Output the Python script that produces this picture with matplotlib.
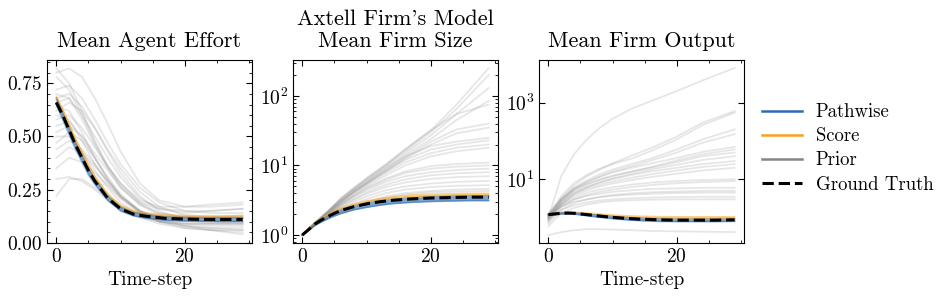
import matplotlib
matplotlib.use("Agg")
import matplotlib.pyplot as plt
from matplotlib.lines import Line2D
import numpy as np

plt.rcParams.update({
    "font.family": "serif",
    "font.serif": ["cmr10"],
    "mathtext.fontset": "cm",
    "axes.formatter.use_mathtext": True,
    "axes.unicode_minus": False,
    "font.size": 14,
    "axes.linewidth": 0.8,
    "xtick.direction": "in",
    "ytick.direction": "in",
    "xtick.top": True,
    "ytick.right": True,
    "xtick.minor.visible": True,
    "ytick.minor.visible": True,
    "xtick.major.size": 4,
    "ytick.major.size": 4,
    "xtick.minor.size": 2,
    "ytick.minor.size": 2,
    "xtick.major.width": 0.8,
    "ytick.major.width": 0.8,
    "xtick.minor.width": 0.6,
    "ytick.minor.width": 0.6,
})

BLUE = "#2a6db3"
ORANGE = "#f7a21b"
GREY = "#858585"

# time grids
t_main = [0, 1, 2, 3, 4, 5, 6, 8, 10, 12, 14, 17, 20, 23, 26, 29]
t_prior = [0, 2, 4, 6, 8, 10, 13, 16, 20, 24, 29]

# --- Mean Agent Effort ---
effort_truth = [0.66, 0.60, 0.53, 0.46, 0.40, 0.34, 0.29, 0.21, 0.16, 0.135, 0.125, 0.115, 0.112, 0.11, 0.11, 0.11]
effort_path_lo = [0.65, 0.58, 0.51, 0.44, 0.38, 0.32, 0.275, 0.20, 0.15, 0.127, 0.116, 0.106, 0.103, 0.101, 0.10, 0.10]
effort_path_hi = [0.68, 0.61, 0.54, 0.47, 0.41, 0.35, 0.30, 0.22, 0.168, 0.143, 0.132, 0.122, 0.119, 0.117, 0.117, 0.117]
effort_score_lo = [0.67, 0.61, 0.54, 0.47, 0.41, 0.35, 0.30, 0.22, 0.168, 0.143, 0.133, 0.124, 0.121, 0.12, 0.12, 0.12]
effort_score_hi = [0.69, 0.63, 0.56, 0.49, 0.43, 0.37, 0.315, 0.232, 0.178, 0.152, 0.141, 0.132, 0.129, 0.128, 0.128, 0.128]
effort_prior = [
    [0.80, 0.82, 0.78, 0.68, 0.56, 0.43, 0.28, 0.20, 0.17, 0.17, 0.18],
    [0.82, 0.75, 0.62, 0.48, 0.36, 0.27, 0.19, 0.16, 0.15, 0.15, 0.16],
    [0.78, 0.72, 0.60, 0.47, 0.36, 0.28, 0.20, 0.17, 0.17, 0.18, 0.19],
    [0.70, 0.68, 0.58, 0.46, 0.35, 0.26, 0.18, 0.14, 0.12, 0.12, 0.12],
    [0.66, 0.68, 0.60, 0.50, 0.40, 0.31, 0.21, 0.16, 0.14, 0.15, 0.16],
    [0.64, 0.62, 0.52, 0.40, 0.30, 0.22, 0.15, 0.12, 0.10, 0.09, 0.09],
    [0.62, 0.66, 0.62, 0.54, 0.44, 0.35, 0.24, 0.17, 0.13, 0.12, 0.12],
    [0.60, 0.58, 0.48, 0.37, 0.28, 0.21, 0.14, 0.10, 0.08, 0.07, 0.07],
    [0.58, 0.60, 0.54, 0.45, 0.36, 0.28, 0.19, 0.14, 0.12, 0.12, 0.13],
    [0.55, 0.57, 0.50, 0.40, 0.30, 0.22, 0.14, 0.10, 0.08, 0.07, 0.06],
    [0.52, 0.55, 0.50, 0.42, 0.34, 0.26, 0.18, 0.13, 0.11, 0.10, 0.10],
    [0.50, 0.50, 0.43, 0.34, 0.26, 0.19, 0.13, 0.10, 0.09, 0.09, 0.09],
    [0.47, 0.52, 0.48, 0.40, 0.31, 0.23, 0.15, 0.10, 0.07, 0.06, 0.05],
    [0.44, 0.48, 0.44, 0.37, 0.29, 0.22, 0.15, 0.11, 0.09, 0.08, 0.08],
    [0.40, 0.45, 0.42, 0.36, 0.29, 0.22, 0.15, 0.11, 0.08, 0.06, 0.04],
    [0.35, 0.40, 0.38, 0.33, 0.27, 0.21, 0.15, 0.12, 0.11, 0.11, 0.11],
    [0.30, 0.31, 0.29, 0.25, 0.20, 0.16, 0.12, 0.10, 0.09, 0.09, 0.09],
    [0.22, 0.30, 0.30, 0.26, 0.21, 0.16, 0.12, 0.09, 0.07, 0.06, 0.06],
    [0.68, 0.70, 0.64, 0.54, 0.43, 0.33, 0.22, 0.15, 0.11, 0.10, 0.10],
    [0.72, 0.74, 0.68, 0.58, 0.47, 0.37, 0.26, 0.19, 0.15, 0.14, 0.14],
]

# --- Mean Firm Size ---
size_truth = [1.0, 1.2, 1.45, 1.65, 1.85, 2.05, 2.25, 2.55, 2.8, 3.0, 3.15, 3.3, 3.4, 3.45, 3.5, 3.5]
size_path_lo = [1.0, 1.17, 1.38, 1.55, 1.72, 1.88, 2.03, 2.3, 2.5, 2.68, 2.82, 2.95, 3.03, 3.08, 3.12, 3.12]
size_path_hi = [1.0, 1.2, 1.45, 1.65, 1.85, 2.05, 2.25, 2.57, 2.83, 3.05, 3.22, 3.4, 3.52, 3.58, 3.62, 3.63]
size_score_lo = [1.0, 1.22, 1.48, 1.7, 1.92, 2.13, 2.35, 2.68, 2.95, 3.18, 3.35, 3.52, 3.62, 3.68, 3.72, 3.72]
size_score_hi = [1.0, 1.24, 1.52, 1.76, 2.0, 2.22, 2.45, 2.8, 3.1, 3.35, 3.55, 3.75, 3.87, 3.93, 3.97, 3.98]
size_prior = [
    [1, 1.5, 2.2, 3.4, 4.8, 6.6, 10.5, 17, 32, 75, 250],
    [1, 1.5, 2.2, 3.3, 4.6, 6.3, 10, 16, 30, 65, 200],
    [1, 1.5, 2.2, 3.2, 4.5, 6.1, 9.5, 15, 27, 55, 130],
    [1, 1.5, 2.1, 3.1, 4.3, 5.8, 9, 14, 24, 45, 85],
    [1, 1.5, 2.2, 3.3, 4.6, 6.4, 10, 17, 32, 55, 75],
    [1, 1.5, 2.1, 3.0, 4.2, 5.6, 8.5, 13, 22, 33, 40],
    [1, 1.5, 2.1, 3.0, 4.1, 5.4, 8.2, 12.5, 20, 29, 35],
    [1, 1.5, 2.1, 3.1, 4.3, 5.8, 9, 13.5, 19, 22, 25],
    [1, 1.5, 2.1, 3.0, 4.1, 5.5, 8.3, 12, 17, 20, 23],
    [1, 1.5, 2.0, 2.9, 4.0, 5.3, 7.8, 11, 15, 18, 20],
    [1, 1.45, 2.0, 2.8, 3.8, 5.0, 7.2, 10, 13.5, 16, 18],
    [1, 1.45, 2.0, 2.8, 3.7, 4.8, 6.5, 8.2, 9.8, 10.5, 11],
    [1, 1.45, 1.95, 2.7, 3.6, 4.6, 6.2, 7.8, 9.0, 9.6, 10],
    [1, 1.45, 1.95, 2.7, 3.5, 4.4, 5.8, 7.0, 8.0, 8.6, 9],
    [1, 1.4, 1.9, 2.6, 3.3, 4.1, 5.3, 6.3, 7.2, 7.7, 8],
    [1, 1.4, 1.9, 2.5, 3.2, 3.9, 4.9, 5.7, 6.4, 6.8, 7],
    [1, 1.4, 1.85, 2.4, 3.0, 3.6, 4.4, 5.0, 5.5, 5.8, 6],
    [1, 1.4, 1.8, 2.3, 2.8, 3.3, 4.0, 4.5, 4.9, 5.1, 5.2],
    [1, 1.38, 1.75, 2.2, 2.6, 3.0, 3.6, 4.0, 4.3, 4.5, 4.6],
    [1, 1.38, 1.75, 2.15, 2.5, 2.9, 3.4, 3.8, 4.1, 4.2, 4.3],
]

# --- Mean Firm Output ---
output_truth = [1.2, 1.25, 1.3, 1.32, 1.3, 1.25, 1.2, 1.1, 1.02, 0.96, 0.92, 0.88, 0.86, 0.86, 0.86, 0.88]
output_path_lo = [1.15, 1.2, 1.24, 1.25, 1.23, 1.18, 1.12, 1.02, 0.94, 0.88, 0.84, 0.8, 0.79, 0.79, 0.79, 0.8]
output_path_hi = [1.25, 1.3, 1.34, 1.35, 1.33, 1.29, 1.24, 1.14, 1.06, 1.0, 0.96, 0.92, 0.9, 0.9, 0.9, 0.91]
output_score_lo = [1.2, 1.26, 1.31, 1.33, 1.32, 1.28, 1.24, 1.16, 1.09, 1.04, 1.0, 0.97, 0.95, 0.95, 0.95, 0.96]
output_score_hi = [1.26, 1.32, 1.38, 1.4, 1.39, 1.36, 1.32, 1.25, 1.18, 1.13, 1.1, 1.07, 1.06, 1.06, 1.06, 1.07]
output_prior = [
    [1.0, 12, 45, 110, 220, 380, 700, 1100, 2000, 3800, 8000],
    [1.1, 3.2, 7, 12, 18, 26, 42, 65, 130, 300, 600],
    [1.2, 3.6, 8, 13, 19, 25, 35, 55, 110, 260, 550],
    [1.0, 3.0, 6, 9.5, 13.5, 18, 25, 35, 60, 110, 200],
    [0.9, 2.7, 5.5, 8.5, 12, 16, 22, 31, 50, 90, 150],
    [1.1, 3.0, 5.8, 8.5, 11.5, 15, 20, 26, 36, 52, 70],
    [1.0, 2.6, 5.0, 7.3, 9.6, 12, 16, 21, 31, 45, 60],
    [1.3, 3.0, 5.4, 7.6, 10, 12.5, 16, 20, 28, 40, 50],
    [0.8, 2.2, 4.2, 6.2, 8.3, 10.5, 14, 18, 24, 32, 40],
    [1.2, 2.6, 4.6, 6.4, 8.3, 10.2, 13, 16, 20, 25, 30],
    [1.0, 2.4, 4.2, 5.8, 7.3, 8.8, 11, 13.5, 17, 21, 25],
    [0.9, 2.2, 3.8, 5.2, 6.5, 7.8, 9.6, 11.5, 14, 17, 20],
    [1.1, 2.2, 3.4, 4.5, 5.4, 6.2, 7.3, 8.2, 9, 9.6, 10],
    [0.8, 1.9, 3.0, 3.9, 4.7, 5.4, 6.3, 7.1, 7.9, 8.5, 9],
    [1.0, 2.0, 3.0, 3.7, 4.2, 4.7, 5.2, 5.6, 5.8, 6, 6],
    [0.7, 1.6, 2.4, 3.0, 3.5, 3.9, 4.3, 4.6, 4.8, 5, 5],
    [1.2, 1.9, 2.6, 3.0, 3.4, 3.7, 4.0, 4.2, 4.4, 4.5, 4.5],
    [0.9, 1.6, 2.1, 2.5, 2.8, 3.0, 3.2, 3.35, 3.45, 3.5, 3.5],
    [0.6, 1.3, 1.8, 2.2, 2.5, 2.7, 2.85, 2.95, 3.0, 3.0, 3.0],
    [0.35, 0.42, 0.47, 0.5, 0.5, 0.49, 0.47, 0.45, 0.44, 0.43, 0.42],
]

panels = [
    ("Mean Agent Effort", effort_prior, effort_score_lo, effort_score_hi,
     effort_path_lo, effort_path_hi, effort_truth),
    ("Axtell Firm's Model\nMean Firm Size", size_prior, size_score_lo, size_score_hi,
     size_path_lo, size_path_hi, size_truth),
    ("Mean Firm Output", output_prior, output_score_lo, output_score_hi,
     output_path_lo, output_path_hi, output_truth),
]

fig = plt.figure(figsize=(9.47, 2.98), dpi=100)
lefts = [0.0496, 0.3094, 0.5692]
axes = [fig.add_axes([l, 0.185, 0.2164, 0.614]) for l in lefts]

for ax, (title, prior, s_lo, s_hi, p_lo, p_hi, truth) in zip(axes, panels):
    for line in prior:
        ax.plot(t_prior, line, color=GREY, alpha=0.2, lw=1.3)
    ax.fill_between(t_main, s_lo, s_hi, color=ORANGE, alpha=0.55, lw=0)
    ax.plot(t_main, s_lo, color=ORANGE, alpha=0.5, lw=1.0)
    ax.plot(t_main, s_hi, color=ORANGE, alpha=0.5, lw=1.0)
    ax.fill_between(t_main, p_lo, p_hi, color=BLUE, alpha=0.6, lw=0)
    ax.plot(t_main, p_lo, color=BLUE, alpha=0.5, lw=1.2)
    ax.plot(t_main, p_hi, color=BLUE, alpha=0.5, lw=1.2)
    ax.plot(t_main, truth, color="black", ls="--", lw=2.2)
    ax.set_title(title, pad=9, fontsize=16, linespacing=1.2)
    ax.set_xticks([0, 20])

axes[0].set_ylim(0, 0.86)
axes[0].set_yticks([0, 0.25, 0.5, 0.75])
axes[0].set_yticklabels(["0.00", "0.25", "0.50", "0.75"])
axes[0].set_xlabel("Time-step")
axes[1].set_yscale("log")
axes[1].set_ylim(0.77, 330)
axes[2].set_yscale("log")
axes[2].set_ylim(0.22, 13000)
axes[2].set_yticks([10, 1000])
axes[2].yaxis.set_minor_locator(matplotlib.ticker.NullLocator())
axes[2].set_xlabel("Time-step")
for ax in axes:
    ax.xaxis.set_minor_locator(matplotlib.ticker.MultipleLocator(5))

handles = [
    Line2D([], [], color=BLUE, lw=1.8),
    Line2D([], [], color=ORANGE, lw=1.8),
    Line2D([], [], color=GREY, lw=1.8),
    Line2D([], [], color="black", lw=2.2, ls="--"),
]
fig.legend(handles, ["Pathwise", "Score", "Prior", "Ground Truth"],
           loc="center left", bbox_to_anchor=(0.787, 0.502), frameon=False,
           fontsize=13.5, handlelength=2.1, handletextpad=0.75, labelspacing=0.33)

fig.savefig("out.png", dpi=100)
